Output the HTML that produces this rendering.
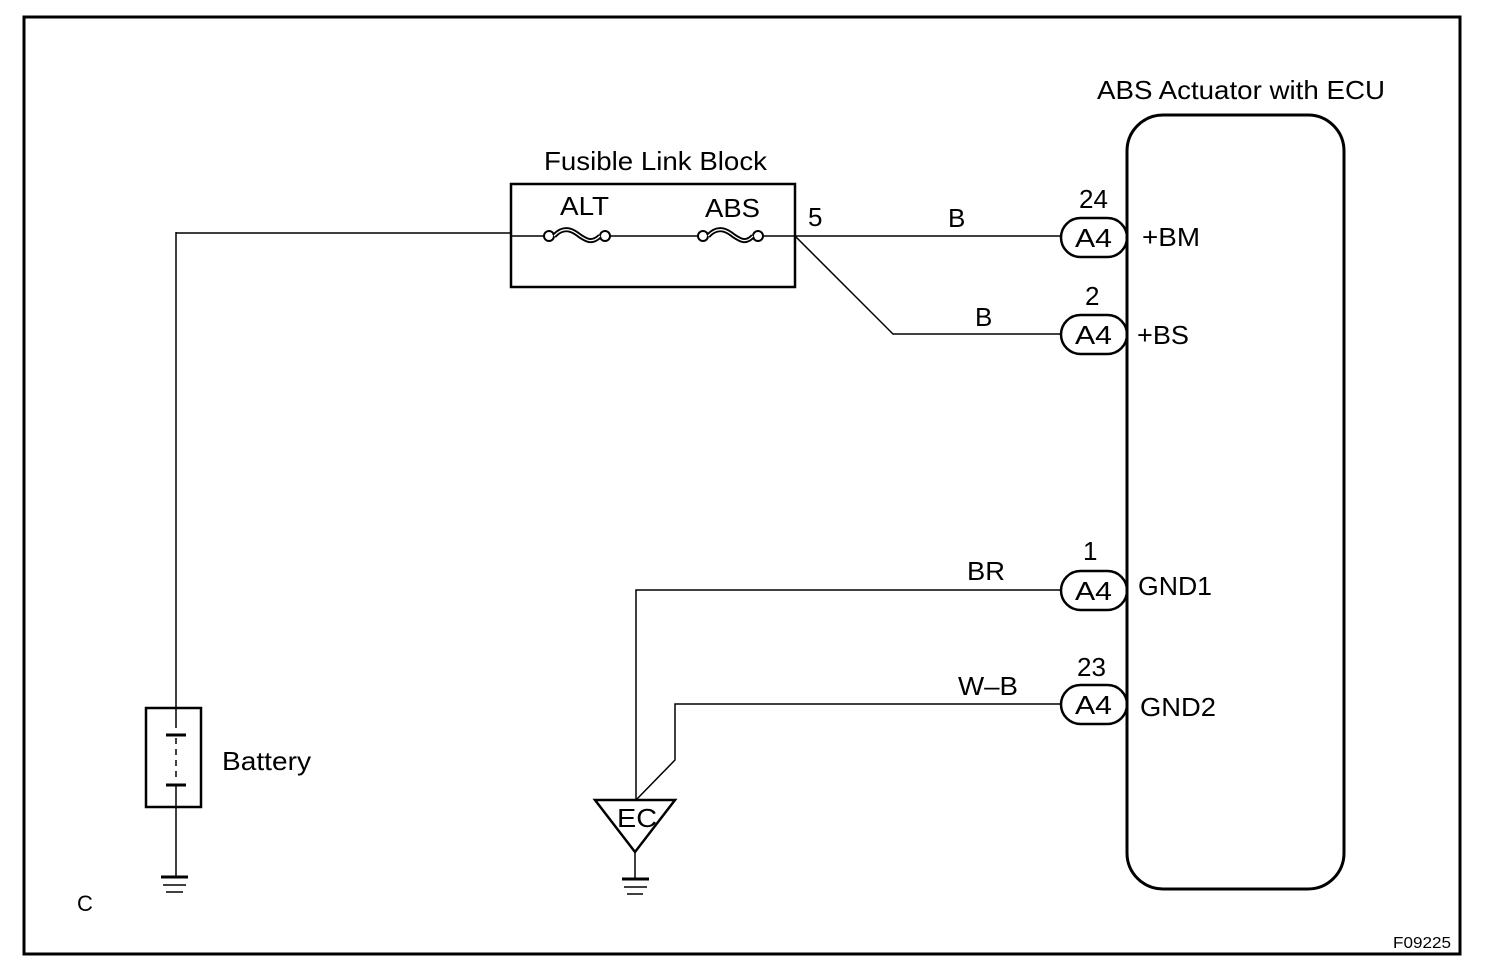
<!DOCTYPE html>
<html><head><meta charset="utf-8"><style>
html,body{margin:0;padding:0;background:#fff;}
svg{display:block;}
text{font-family:"Liberation Sans",Arial,sans-serif;fill:#000;}
</style></head><body>
<svg width="1504" height="978" viewBox="0 0 1504 978" xmlns="http://www.w3.org/2000/svg">
<g fill="none" stroke="#000">
<rect x="24" y="17" width="1436" height="937" stroke-width="3"/>
<rect x="1127" y="115" width="217" height="774" rx="36" ry="36" stroke-width="3"/>
<rect x="511" y="184" width="284" height="103" stroke-width="2.5"/>
<g stroke-width="1.5">
<line x1="176" y1="232" x2="176" y2="707"/>
<line x1="176" y1="233" x2="511" y2="233"/>
<line x1="511" y1="236" x2="544" y2="236"/>
<line x1="610" y1="236" x2="698" y2="236"/>
<line x1="763" y1="236" x2="1061" y2="236"/>
<polyline points="795,236 893,334 1061,334"/>
<polyline points="1061,590 636,590 636,800"/>
<polyline points="1061,704 675,704 675,760 636,800"/>
<line x1="176" y1="808" x2="176" y2="876"/>
<line x1="635" y1="852" x2="635" y2="878"/>
</g>
<circle cx="549" cy="236" r="5" stroke-width="2"/>
<circle cx="605" cy="236" r="5" stroke-width="2"/>
<path d="M554,236 C565,224 575,232 580,236 C586,240 592,244 600,236" stroke-width="5"/>
<path d="M554,236 C565,224 575,232 580,236 C586,240 592,244 600,236" stroke="#fff" stroke-width="1.3"/>
<circle cx="703" cy="236" r="5" stroke-width="2"/>
<circle cx="758" cy="236" r="5" stroke-width="2"/>
<path d="M708,236 C719,224 729,232 734,236 C740,240 746,244 753,236" stroke-width="5"/>
<path d="M708,236 C719,224 729,232 734,236 C740,240 746,244 753,236" stroke="#fff" stroke-width="1.3"/>
<g stroke-width="2.5">
<rect x="1061" y="218" width="66" height="39" rx="19.5"/>
<rect x="1061" y="315" width="66" height="39" rx="19.5"/>
<rect x="1061" y="571" width="66" height="39" rx="19.5"/>
<rect x="1061" y="685" width="66" height="39" rx="19.5"/>
</g>
<rect x="146" y="708" width="55" height="99" stroke-width="2.5"/>
<line x1="176" y1="708" x2="176" y2="728" stroke-width="1.5"/>
<line x1="166" y1="735" x2="186" y2="735" stroke-width="3"/>
<line x1="176" y1="738" x2="176" y2="778" stroke-width="1.5" stroke-dasharray="6,5"/>
<line x1="166" y1="785" x2="186" y2="785" stroke-width="3"/>
<line x1="176" y1="785" x2="176" y2="808" stroke-width="1.5"/>
<line x1="161" y1="877" x2="188" y2="877" stroke-width="3"/>
<line x1="163" y1="885" x2="186" y2="885" stroke-width="1.5"/>
<line x1="166" y1="892" x2="183" y2="892" stroke-width="1.5"/>
<line x1="622" y1="879" x2="649" y2="879" stroke-width="3"/>
<line x1="624" y1="887" x2="647" y2="887" stroke-width="1.5"/>
<line x1="627" y1="894" x2="643" y2="894" stroke-width="1.5"/>
<polygon points="595,800 675,800 635,852" stroke-width="2.5"/>
</g>
<g font-size="26">
<text x="1097" y="99" textLength="288" lengthAdjust="spacingAndGlyphs">ABS Actuator with ECU</text>
<text x="544" y="170" textLength="223" lengthAdjust="spacingAndGlyphs">Fusible Link Block</text>
<text x="560" y="215" textLength="49" lengthAdjust="spacingAndGlyphs">ALT</text>
<text x="705" y="217" textLength="55" lengthAdjust="spacingAndGlyphs">ABS</text>
<text x="808" y="226">5</text>
<text x="948" y="227">B</text>
<text x="975" y="326">B</text>
<text x="1079" y="208">24</text>
<text x="1085" y="305">2</text>
<text x="1083" y="560">1</text>
<text x="1077" y="676">23</text>
<text x="1075" y="247" textLength="37" lengthAdjust="spacingAndGlyphs">A4</text>
<text x="1075" y="344" textLength="37" lengthAdjust="spacingAndGlyphs">A4</text>
<text x="1075" y="600" textLength="37" lengthAdjust="spacingAndGlyphs">A4</text>
<text x="1075" y="714" textLength="37" lengthAdjust="spacingAndGlyphs">A4</text>
<text x="1142" y="246" textLength="58" lengthAdjust="spacingAndGlyphs">+BM</text>
<text x="1137" y="344" textLength="52" lengthAdjust="spacingAndGlyphs">+BS</text>
<text x="1138" y="595" textLength="74" lengthAdjust="spacingAndGlyphs">GND1</text>
<text x="1140" y="716" textLength="76" lengthAdjust="spacingAndGlyphs">GND2</text>
<text x="967" y="580" textLength="38" lengthAdjust="spacingAndGlyphs">BR</text>
<text x="958" y="695" textLength="60" lengthAdjust="spacingAndGlyphs">W–B</text>
<text x="222" y="770" textLength="89" lengthAdjust="spacingAndGlyphs">Battery</text>
<text x="617" y="827" textLength="40" lengthAdjust="spacingAndGlyphs">EC</text>
<text x="77" y="911" font-size="22">C</text>
</g>
<text x="1393" y="948" font-size="16" textLength="58" lengthAdjust="spacingAndGlyphs">F09225</text>
</svg>
</body></html>
